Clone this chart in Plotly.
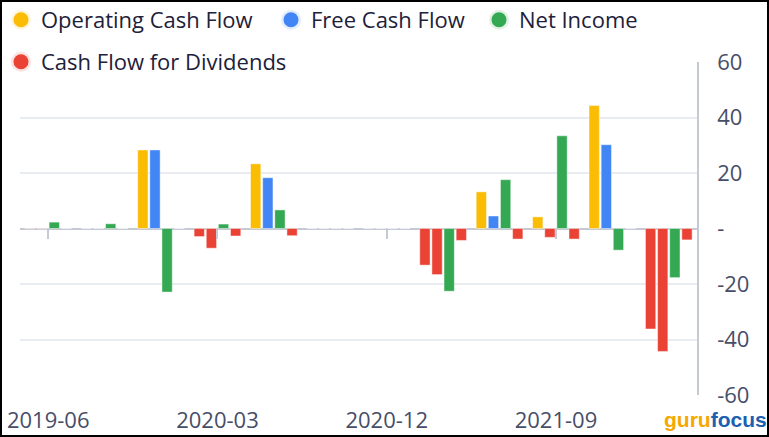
import plotly.graph_objects as go

quarters = ["2019-06", "2019-09", "2019-12", "2020-03", "2020-06", "2020-09",
            "2020-12", "2021-03", "2021-06", "2021-09", "2021-12", "2022-03"]
operating_cash_flow = [-0.1, 0, 28.3, -2.9, 23.3, 0, 0, -13.2, 13.2, 4.2, 44.3, -36.2]
free_cash_flow = [-0.1, 0, 28.3, -7.1, 18.3, 0, 0, -16.6, 4.5, -3.2, 30.2, -44.3]
net_income = [2.3, 1.7, -22.9, 1.6, 6.7, 0, 0, -22.6, 17.6, 33.4, -7.8, -17.7]
cash_flow_dividends = [0, 0, 0, -2.7, -2.6, 0, 0, -4.3, -3.8, -3.8, 0, -4.1]

y_tickvals = [-60, -40, -20, 0, 20, 40, 60]
y_ticktext = ["-60", "-40", "-20", "-", "20", "40", "60"]
x_tick_labels = quarters[::3]

YELLOW = "#fbbc04"
BLUE = "#4285f4"
GREEN = "#34a853"
RED = "#ea4335"
HALO = {YELLOW: "rgba(251,188,4,0.15)", BLUE: "rgba(66,133,244,0.15)",
        GREEN: "rgba(52,168,83,0.15)", RED: "rgba(234,67,53,0.15)"}

FONT = "Open Sans"
LEGEND_COLOR = "#1d2139"
TICK_COLOR = "#474e68"

series = [
    ("Operating Cash Flow", operating_cash_flow, YELLOW, True),
    ("Free Cash Flow", free_cash_flow, BLUE, True),
    ("Net Income", net_income, GREEN, False),
    ("Cash Flow for Dividends", cash_flow_dividends, RED, False),
]

fig = go.Figure()
for name, vals, col, neg_red in series:
    colors = [(RED if (neg_red and v < 0) else col) for v in vals]
    fig.add_trace(go.Bar(
        x=quarters, y=vals, name=name, showlegend=False,
        marker=dict(color=colors, line=dict(color="rgba(255,255,255,0.45)", width=1)),
        hoverinfo="skip",
    ))

legend_names = ["legend", "legend2", "legend3", "legend4"]
for (name, vals, col, _), lg in zip(series, legend_names):
    fig.add_trace(go.Scatter(
        x=[None], y=[None], mode="markers", name=name, legend=lg,
        marker=dict(color=col, size=15, line=dict(color=HALO[col], width=5)),
        hoverinfo="skip",
    ))

# axis for the small tick marks along the zero line
fig.add_trace(go.Scatter(x=[None], y=[None], xaxis="x2", showlegend=False, hoverinfo="skip"))

L, R, T, B = 20, 72, 62, 42
W, H = 769, 437
pw = W - L - R
ph = H - T - B

def px_x(p):
    return (p - L) / pw

def px_y(p):
    return (H - B - p) / ph

legend_common = dict(orientation="h", xanchor="left", yanchor="middle",
                     font=dict(family=FONT, size=22, color=LEGEND_COLOR),
                     bgcolor="rgba(0,0,0,0)", borderwidth=0)

fig.update_layout(
    width=W, height=H,
    margin=dict(l=L, r=R, t=T, b=B, autoexpand=False),
    paper_bgcolor="white", plot_bgcolor="white",
    barmode="group", bargap=0.14, bargroupgap=0.15,
    hovermode=False,
    font=dict(family=FONT, color=TICK_COLOR),
    legend=dict(x=px_x(1), y=px_y(20), **legend_common),
    legend2=dict(x=px_x(271), y=px_y(20), **legend_common),
    legend3=dict(x=px_x(479), y=px_y(20), **legend_common),
    legend4=dict(x=px_x(1), y=px_y(62), **legend_common),
    xaxis=dict(
        type="category", range=[-0.5, len(quarters) - 0.5],
        tickmode="array", tickvals=x_tick_labels, ticktext=x_tick_labels,
        showgrid=False, showline=False, zeroline=False, ticks="",
        tickfont=dict(family=FONT, size=22, color=TICK_COLOR),
        ticklabelstandoff=10,
    ),
    xaxis2=dict(
        overlaying="x", anchor="free", position=0.5, type="linear",
        range=[-0.5, len(quarters) - 0.5],
        tickmode="array", tickvals=list(range(0, len(quarters), 3)),
        ticks="outside", ticklen=9, tickwidth=1.5, tickcolor="#c4c9d3",
        showticklabels=False, showgrid=False, zeroline=False, showline=False,
    ),
    yaxis=dict(
        side="right", range=[-60, 60],
        tickmode="array", tickvals=y_tickvals, ticktext=y_ticktext,
        showline=True, linecolor="#c4c9d3", linewidth=1.5,
        gridcolor="#e8ebf0", gridwidth=1.5,
        zeroline=True, zerolinecolor="#c4c9d3", zerolinewidth=1.5,
        ticks="", ticklabelstandoff=14,
        tickfont=dict(family=FONT, size=22, color=TICK_COLOR),
    ),
    annotations=[dict(
        xref="paper", yref="paper", x=px_x(715), y=px_y(419),
        xanchor="center", yanchor="middle", showarrow=False,
        text="<b><span style='color:#f5a800'>guru</span><span style='color:#1d5fb0'>focus</span></b>",
        font=dict(family="Liberation Sans", size=21),
    )],
    shapes=[dict(
        type="rect", xref="paper", yref="paper", layer="above",
        x0=px_x(1), x1=px_x(768), y0=px_y(436), y1=px_y(1),
        line=dict(color="black", width=2), fillcolor="rgba(0,0,0,0)",
    )],
)

fig.write_html("out.html", config={"displayModeBar": False},
               post_script="document.body.style.margin='0';")
